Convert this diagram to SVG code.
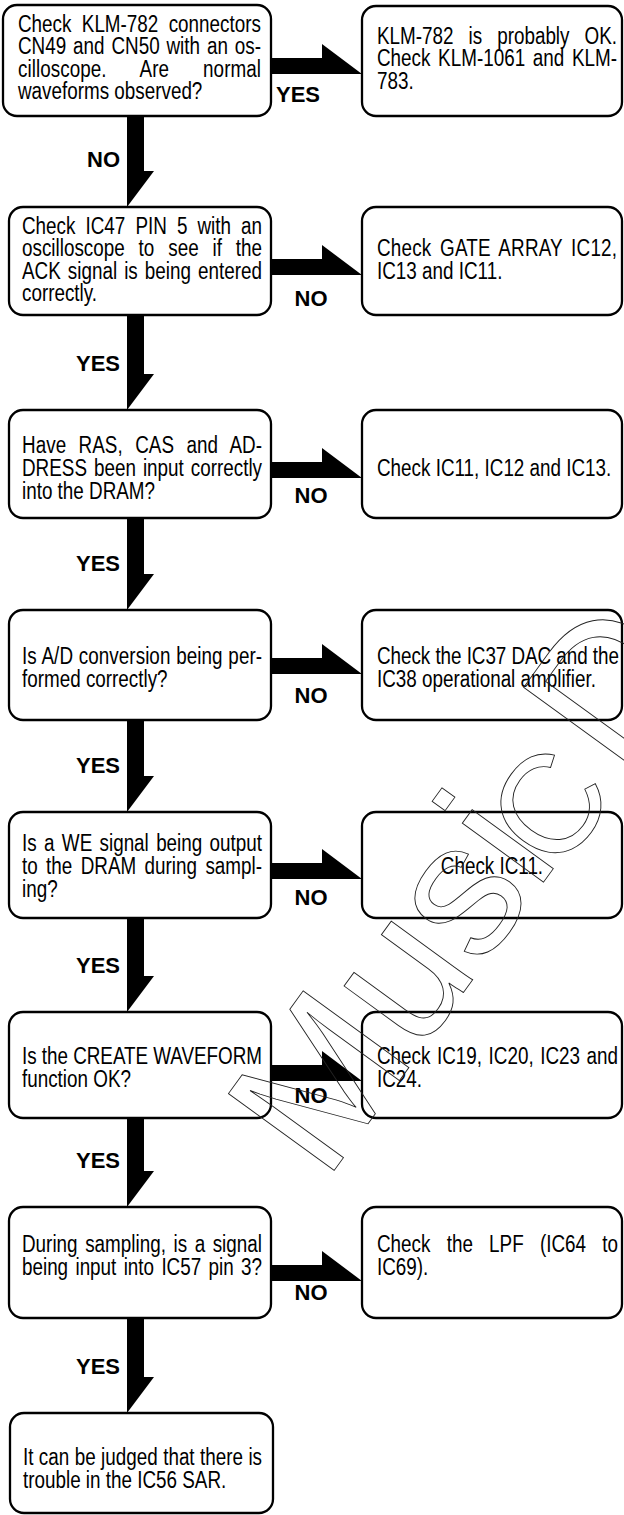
<svg xmlns="http://www.w3.org/2000/svg" width="624" height="1515" viewBox="0 0 624 1515">
<style>
.box{fill:#fff;stroke:#000;stroke-width:2.3}
.t{font-family:"Liberation Sans",Arial,sans-serif;font-size:23px;fill:#000}
.lb{font-family:"Liberation Sans",Arial,sans-serif;font-weight:bold;font-size:22px;fill:#000}
.arr{fill:#000}
.wm{font-family:"Liberation Sans",Arial,sans-serif;font-size:190px;fill:none;stroke:#222;stroke-width:0.9}
</style>
<rect width="624" height="1515" fill="#fff"/>
<g id="connectors">
<polygon class="arr" points="127,116 144,116 144,171 154,171 127,207"/>
<text class="lb" x="120" y="167" text-anchor="end">NO</text>
<polygon class="arr" points="127,315 144,315 144,374 154,374 127,410"/>
<text class="lb" x="120" y="371" text-anchor="end">YES</text>
<polygon class="arr" points="127,518 144,518 144,574 154,574 127,610"/>
<text class="lb" x="120" y="571" text-anchor="end">YES</text>
<polygon class="arr" points="127,720 144,720 144,776 154,776 127,812"/>
<text class="lb" x="120" y="773" text-anchor="end">YES</text>
<polygon class="arr" points="127,918 144,918 144,976 154,976 127,1012"/>
<text class="lb" x="120" y="973" text-anchor="end">YES</text>
<polygon class="arr" points="127,1118 144,1118 144,1171 154,1171 127,1207"/>
<text class="lb" x="120" y="1168" text-anchor="end">YES</text>
<polygon class="arr" points="127,1318 144,1318 144,1377 154,1377 127,1413"/>
<text class="lb" x="120" y="1374" text-anchor="end">YES</text>
<polygon class="arr" points="270,58 322,58 322,44 362,74 270,74"/>
<text class="lb" x="298" y="102" text-anchor="middle">YES</text>
<polygon class="arr" points="270,259 322,259 322,245 362,275 270,275"/>
<text class="lb" x="311" y="306" text-anchor="middle">NO</text>
<polygon class="arr" points="270,462 322,462 322,448 362,478 270,478"/>
<text class="lb" x="311" y="503" text-anchor="middle">NO</text>
<polygon class="arr" points="270,658 322,658 322,644 362,674 270,674"/>
<text class="lb" x="311" y="703" text-anchor="middle">NO</text>
<polygon class="arr" points="270,863 322,863 322,849 362,879 270,879"/>
<text class="lb" x="311" y="905" text-anchor="middle">NO</text>
<polygon class="arr" points="270,1065 322,1065 322,1051 362,1081 270,1081"/>
<text class="lb" x="311" y="1103" text-anchor="middle">NO</text>
<polygon class="arr" points="270,1265 322,1265 322,1251 362,1281 270,1281"/>
<text class="lb" x="311" y="1300" text-anchor="middle">NO</text>
</g>
<g id="q1">
<rect class="box" x="3" y="5" width="268" height="111" rx="14"/>
<g transform="matrix(0.82,0,0,1,18,0)">
<text class="t" x="0" y="32" textLength="296.3" lengthAdjust="spacing" word-spacing="6.2">Check KLM-782 connectors</text>
<text class="t" x="0" y="54.5" textLength="296.3" lengthAdjust="spacing" word-spacing="2">CN49 and CN50 with an os-</text>
<text class="t" x="0" y="77" textLength="296.3" lengthAdjust="spacing" word-spacing="35">cilloscope. Are normal</text>
<text class="t" x="0" y="99.5">waveforms observed?</text>
</g>
</g>
<g id="r1">
<rect class="box" x="362" y="6" width="260" height="110" rx="14"/>
<g transform="matrix(0.82,0,0,1,377,0)">
<text class="t" x="0" y="44" textLength="292.7" lengthAdjust="spacing" word-spacing="12">KLM-782 is probably OK.</text>
<text class="t" x="0" y="66.5" textLength="292.7" lengthAdjust="spacing" word-spacing="2.9">Check KLM-1061 and KLM-</text>
<text class="t" x="0" y="89">783.</text>
</g>
</g>
<g id="q2">
<rect class="box" x="9" y="207" width="262" height="108" rx="14"/>
<g transform="matrix(0.82,0,0,1,22,0)">
<text class="t" x="0" y="234" textLength="292.7" lengthAdjust="spacing" word-spacing="5.9">Check IC47 PIN 5 with an</text>
<text class="t" x="0" y="256.5" textLength="292.7" lengthAdjust="spacing" word-spacing="10.5">oscilloscope to see if the</text>
<text class="t" x="0" y="279" textLength="292.7" lengthAdjust="spacing" word-spacing="2.2">ACK signal is being entered</text>
<text class="t" x="0" y="301.5">correctly.</text>
</g>
</g>
<g id="r2">
<rect class="box" x="362" y="207" width="260" height="108" rx="14"/>
<g transform="matrix(0.82,0,0,1,377,0)">
<text class="t" x="0" y="256.5" textLength="292.7" lengthAdjust="spacing" word-spacing="3.8">Check GATE ARRAY IC12,</text>
<text class="t" x="0" y="279">IC13 and IC11.</text>
</g>
</g>
<g id="q3">
<rect class="box" x="9" y="410" width="262" height="108" rx="14"/>
<g transform="matrix(0.82,0,0,1,22,0)">
<text class="t" x="0" y="453" textLength="292.7" lengthAdjust="spacing" word-spacing="8.7">Have RAS, CAS and AD-</text>
<text class="t" x="0" y="476" textLength="292.7" lengthAdjust="spacing" word-spacing="2.1">DRESS been input correctly</text>
<text class="t" x="0" y="499">into the DRAM?</text>
</g>
</g>
<g id="r3">
<rect class="box" x="362" y="410" width="260" height="108" rx="14"/>
<g transform="matrix(0.82,0,0,1,377,0)">
<text class="t" x="0" y="476">Check IC11, IC12 and IC13.</text>
</g>
</g>
<g id="q4">
<rect class="box" x="9" y="610" width="262" height="110" rx="14"/>
<g transform="matrix(0.82,0,0,1,22,0)">
<text class="t" x="0" y="664" textLength="292.7" lengthAdjust="spacing" word-spacing="0.6">Is A/D conversion being per-</text>
<text class="t" x="0" y="687">formed correctly?</text>
</g>
</g>
<g id="r4">
<rect class="box" x="362" y="610" width="260" height="110" rx="14"/>
<g transform="matrix(0.82,0,0,1,377,0)">
<text class="t" x="0" y="664" textLength="295.1" lengthAdjust="spacing">Check the IC37 DAC and the</text>
<text class="t" x="0" y="687">IC38 operational amplifier.</text>
</g>
</g>
<g id="q5">
<rect class="box" x="9" y="812" width="262" height="106" rx="14"/>
<g transform="matrix(0.82,0,0,1,22,0)">
<text class="t" x="0" y="851" textLength="292.7" lengthAdjust="spacing" word-spacing="2.6">Is a WE signal being output</text>
<text class="t" x="0" y="874" textLength="292.7" lengthAdjust="spacing" word-spacing="3.8">to the DRAM during sampl-</text>
<text class="t" x="0" y="897">ing?</text>
</g>
</g>
<g id="r5">
<rect class="box" x="362" y="812" width="260" height="106" rx="14"/>
<g transform="matrix(0.82,0,0,1,377,0)">
<text class="t" x="140.2" y="874" text-anchor="middle">Check IC11.</text>
</g>
</g>
<g id="q6">
<rect class="box" x="9" y="1012" width="262" height="106" rx="14"/>
<g transform="matrix(0.82,0,0,1,22,0)">
<text class="t" x="0" y="1064" textLength="292.7" lengthAdjust="spacing">Is the CREATE WAVEFORM</text>
<text class="t" x="0" y="1087">function OK?</text>
</g>
</g>
<g id="r6">
<rect class="box" x="362" y="1012" width="260" height="106" rx="14"/>
<g transform="matrix(0.82,0,0,1,377,0)">
<text class="t" x="0" y="1064" textLength="293.9" lengthAdjust="spacing" word-spacing="1.6">Check IC19, IC20, IC23 and</text>
<text class="t" x="0" y="1087">IC24.</text>
</g>
</g>
<g id="q7">
<rect class="box" x="9" y="1207" width="262" height="111" rx="14"/>
<g transform="matrix(0.82,0,0,1,22,0)">
<text class="t" x="0" y="1252" textLength="292.7" lengthAdjust="spacing" word-spacing="2.8">During sampling, is a signal</text>
<text class="t" x="0" y="1275" textLength="292.7" lengthAdjust="spacing" word-spacing="2.6">being input into IC57 pin 3?</text>
</g>
</g>
<g id="r7">
<rect class="box" x="362" y="1207" width="260" height="111" rx="14"/>
<g transform="matrix(0.82,0,0,1,377,0)">
<text class="t" x="0" y="1252" textLength="293.9" lengthAdjust="spacing" word-spacing="13.4">Check the LPF (IC64 to</text>
<text class="t" x="0" y="1275">IC69).</text>
</g>
</g>
<g id="end">
<rect class="box" x="10" y="1413" width="263" height="100" rx="14"/>
<g transform="matrix(0.82,0,0,1,23,0)">
<text class="t" x="0" y="1465" textLength="291.5" lengthAdjust="spacing" word-spacing="0.2">It can be judged that there is</text>
<text class="t" x="0" y="1488">trouble in the IC56 SAR.</text>
</g>
</g>
<g id="watermark">
<text class="wm" transform="translate(325,1183) rotate(-54)">Musi<tspan font-size="140" dx="-15" dy="8">C</tspan><tspan dx="15" dy="-8">D</tspan></text>
</g>
</svg>
